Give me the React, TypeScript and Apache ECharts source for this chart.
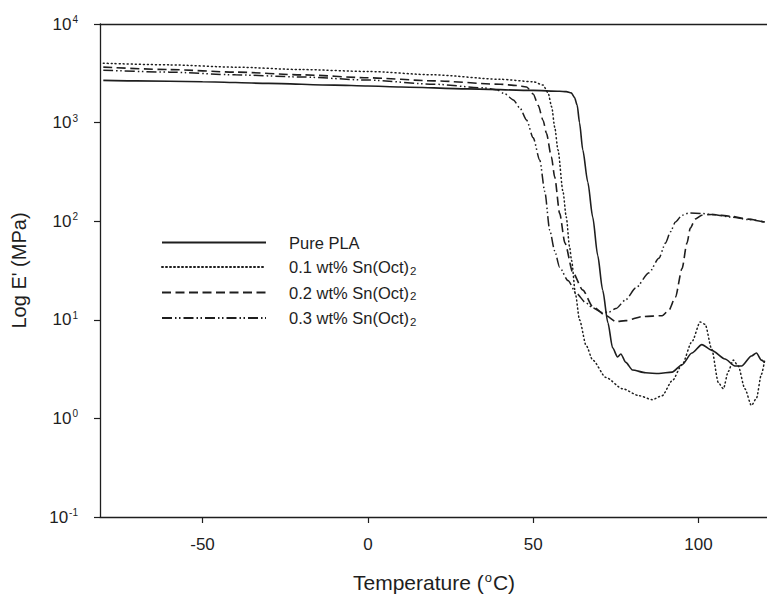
import React, { useEffect, useRef } from "react";
import * as echarts from "echarts";

// Storage modulus E' (MPa) against temperature (°C) for PLA and Sn(Oct)2 blends
const tempPure = [-80, -70, -50, -30, -10, 0, 10, 30, 50, 58, 60, 61.5, 62.5, 63.3, 64, 65, 66.5, 68, 69.5, 71, 72.6, 74, 75.5, 76.5, 78, 80, 84, 88, 92, 95, 98, 101, 104, 108, 111, 113, 116, 117.5, 119, 120];
const modulusPure = [2680, 2650, 2600, 2500, 2400, 2350, 2300, 2200, 2120, 2080, 2060, 2000, 1800, 1500, 1000, 527, 250, 110, 45, 20, 9.3, 5.2, 4.2, 4.5, 3.7, 3.1, 2.9, 2.85, 2.95, 3.5, 4.6, 5.6, 4.9, 4.0, 3.4, 3.4, 4.3, 4.6, 3.9, 3.7];

const temp01 = [-80, -60, -40, -20, 0, 20, 40, 50, 53, 54.5, 55.6, 56.5, 57.5, 59, 60, 61, 61.6, 62.8, 64, 66, 68, 72, 77, 82, 86, 89, 92, 95, 98, 100.5, 102, 104, 106, 107.5, 109, 110.5, 112, 114, 116, 117.5, 119, 120];
const modulus01 = [4000, 3850, 3650, 3450, 3300, 3050, 2750, 2600, 2400, 2000, 1440, 900, 527, 200, 110, 55, 40, 18, 10, 5.5, 3.9, 2.6, 2.0, 1.7, 1.55, 1.7, 2.4, 3.5, 6, 9.5, 9, 5, 2.3, 2.0, 3.0, 3.9, 3.4, 2.0, 1.35, 1.6, 2.8, 3.9];

const temp02 = [-80, -60, -40, -20, 0, 20, 40, 45, 48, 50, 51.5, 53, 54, 55.5, 56.5, 58, 59.6, 62, 65, 68, 72, 75, 78, 83, 89, 91, 93, 95, 96.5, 97.5, 99, 101, 104, 110, 115, 120];
const modulus02 = [3650, 3450, 3250, 3050, 2850, 2650, 2450, 2380, 2300, 1950, 1500, 1050, 780, 450, 280, 120, 60, 30, 20, 13.6, 11, 9.6, 9.8, 10.8, 11, 12.5, 17, 33, 60, 85, 105, 115, 117, 112, 105, 98];

const temp03 = [-80, -60, -40, -20, 0, 20, 35, 39, 41.5, 44, 46, 48, 50, 52, 53.5, 55, 56.5, 58, 60.5, 63, 66, 68, 71, 73, 75, 78, 81, 85, 88, 90, 91.5, 93, 95, 97, 101, 104, 110, 115, 120];
const modulus03 = [3400, 3250, 3050, 2900, 2700, 2450, 2250, 2150, 1950, 1700, 1400, 1060, 700, 415, 200, 81, 50, 34, 25, 18.6, 14.8, 13.2, 11.8, 12, 13, 16, 21, 30, 42, 60, 78, 98, 115, 121, 120, 117, 110, 104, 98];

const seriesNames = ["Pure PLA", "0.1 wt% Sn(Oct)2", "0.2 wt% Sn(Oct)2", "0.3 wt% Sn(Oct)2"];
const xTicks = [-50, 0, 50, 100];

const INK = "#1e1e1e";
const FONT = "'Liberation Sans', Arial, sans-serif";

const zip = (xs: number[], ys: number[]) => xs.map((x, i) => [x, ys[i]]);

export default function App() {
  const ref = useRef<HTMLDivElement>(null);

  useEffect(() => {
    if (!ref.current) return;
    const chart = echarts.init(ref.current, undefined, { renderer: "svg" });

    const lineSeries = (name: string, data: number[][], type: any, width: number, cap: any = "butt") => ({
      name,
      type: "line",
      data,
      symbol: "none",
      showSymbol: false,
      smooth: 0.25,
      smoothMonotone: "x",
      clip: true,
      lineStyle: { color: INK, width, type, cap },
      itemStyle: { color: INK },
      emphasis: { disabled: true },
    });

    chart.setOption({
      animation: false,
      backgroundColor: "#ffffff",
      textStyle: { fontFamily: FONT },
      grid: {
        left: 100,
        top: 24,
        width: 668,
        height: 493,
        containLabel: false,
        outerBoundsMode: "none",
      },
      legend: {
        orient: "vertical",
        left: 161,
        top: 234,
        padding: 0,
        itemWidth: 104,
        itemHeight: 14,
        itemGap: 6.5,
        selectedMode: false,
        data: seriesNames,
        itemStyle: { opacity: 0 },
        formatter: (name: string) =>
          name.endsWith(")2") ? `{t|${name.slice(0, -1)}}{sub|2}` : `{t|${name}}`,
        textStyle: {
          color: INK,
          fontFamily: FONT,
          fontSize: 16.5,
          padding: [0, 0, 0, 18],
          rich: {
            t: { fontSize: 16.5, fontFamily: FONT, color: INK, lineHeight: 18 },
            sub: { fontSize: 11.5, fontFamily: FONT, color: INK, lineHeight: 11, padding: [7, 0, 0, 1] },
          },
        },
      },
      xAxis: [
        {
          type: "value",
          min: -81,
          max: 121,
          splitLine: { show: false },
          axisLine: { show: true, onZero: false, lineStyle: { color: INK, width: 1.3 } },
          axisTick: { show: true, length: 6, inside: false, customValues: xTicks, lineStyle: { color: INK, width: 1.2 } },
          axisLabel: {
            customValues: xTicks,
            color: INK,
            fontSize: 17,
            fontFamily: FONT,
            margin: 19,
          },
          name: "{t|Temperature (}{s|o}{t|C)}",
          nameLocation: "middle",
          nameGap: 54,
          nameTextStyle: {
            rich: {
              t: { fontSize: 21, fontFamily: FONT, color: INK, lineHeight: 23 },
              s: { fontSize: 13, fontFamily: FONT, color: INK, lineHeight: 13, padding: [0, 1, 10, 1] },
            },
          },
        },
        {
          type: "value",
          position: "top",
          min: -81,
          max: 121,
          splitLine: { show: false },
          axisLine: { show: true, onZero: false, lineStyle: { color: INK, width: 1.3 } },
          axisTick: { show: false },
          axisLabel: { show: false },
        },
      ],
      yAxis: {
        type: "log",
        logBase: 10,
        min: 0.1,
        max: 10000,
        splitLine: { show: false },
        axisLine: { show: true, onZero: false, lineStyle: { color: INK, width: 1.3 } },
        axisTick: { show: true, length: 6, inside: false, lineStyle: { color: INK, width: 1.2 } },
        minorTick: { show: false },
        axisLabel: {
          margin: 22,
          formatter: (v: number) => `{b|10}{s|${Math.round(Math.log10(v))}}`,
          rich: {
            b: { fontSize: 17, fontFamily: FONT, color: INK, lineHeight: 18 },
            s: { fontSize: 10, fontFamily: FONT, color: INK, lineHeight: 10, padding: [0, 0, 9, 1] },
          },
        },
        name: "Log E' (MPa)",
        nameLocation: "middle",
        nameGap: 71,
        nameTextStyle: { fontSize: 20, fontFamily: FONT, color: INK },
      },
      series: [
        lineSeries(seriesNames[0], zip(tempPure, modulusPure), "solid", 1.6),
        lineSeries(seriesNames[1], zip(temp01, modulus01), [1, 3], 1.5, "round"),
        lineSeries(seriesNames[2], zip(temp02, modulus02), [9, 4.5], 1.6),
        lineSeries(seriesNames[3], zip(temp03, modulus03), [10, 3, 1.5, 2.5, 1.5, 3], 1.5),
      ],
    });

    return () => chart.dispose();
  }, []);

  return (
    <div
      ref={ref}
      style={{ position: "fixed", left: 0, top: 0, width: 767, height: 597, background: "#fff" }}
    />
  );
}
